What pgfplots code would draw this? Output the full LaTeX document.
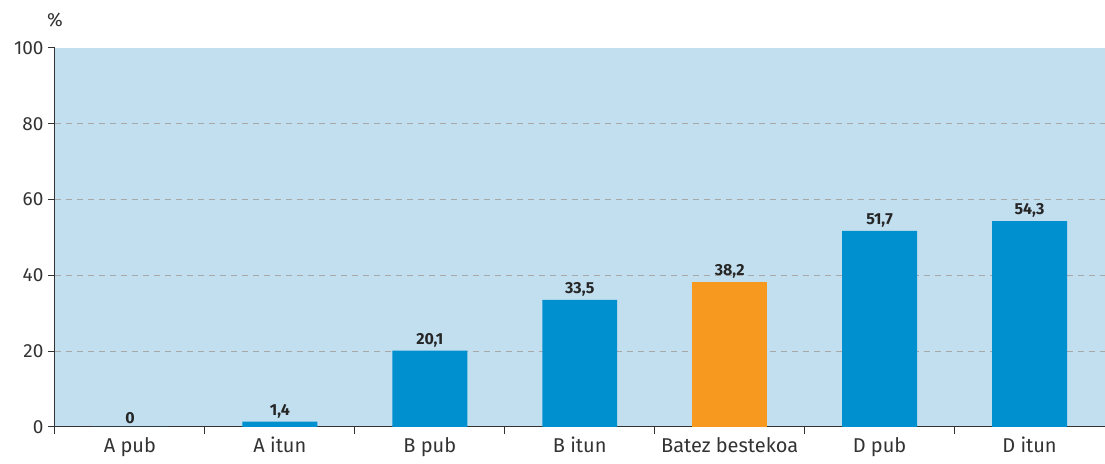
\documentclass[border=0pt]{standalone}
\usepackage{pgfplots}
\pgfplotsset{compat=1.18}
\usepackage{fontspec}
\setmainfont{Fira Sans}
\definecolor{bgblue}{HTML}{C2DFF0}
\definecolor{barblue}{HTML}{0090D0}
\definecolor{barorange}{HTML}{F7991E}
\definecolor{gridgray}{HTML}{A8A8A8}
\definecolor{txt}{HTML}{333333}

\begin{document}
\begin{tikzpicture}
\begin{axis}[
  name=ax,
  width=1050pt, height=379pt, scale only axis,
  xmin=-0.5, xmax=6.5, ymin=0, ymax=100,
  clip=false,
  axis x line*=bottom, axis y line*=left,
  axis line style={txt, line width=1pt},
  axis background/.style={fill=bgblue},
  tick align=outside,
  major tick length=7pt,
  tick style={txt, line width=1pt},
  ytick={0,20,40,60,80},
  extra y ticks={100}, extra y tick style={grid=none},
  ymajorgrids,
  grid style={gridgray, line width=0.9pt, dash pattern=on 6pt off 5pt},
  xtick={-0.5,0.5,...,5.5}, xticklabels={},
  extra x ticks={0,1,2,3,4,5,6},
  extra x tick labels={A pub, A itun, B pub, B itun, Batez bestekoa, D pub, D itun},
  extra x tick style={major tick length=0pt,
    tick label style={yshift=-7pt}},
  tick label style={font=\fontsize{20}{22}\selectfont, text=txt},
  y tick label style={font=\fontsize{19}{21}\selectfont, xshift=-1pt},
  /pgf/number format/assume math mode=true,
  nodes near coords={\pgfmathprintnumber[fixed, precision=1, use comma]{\pgfplotspointmeta}},
  every node near coord/.append style={font=\bfseries\fontsize{16}{18}\selectfont, text=black!85},
]
\addplot[ybar, bar width=0.5, bar shift=0, fill=barblue, draw=none]
  coordinates {(0,0) (1,1.4) (2,20.1) (3,33.5) (5,51.7) (6,54.3)};
\addplot[ybar, bar width=0.5, bar shift=0, fill=barorange, draw=none]
  coordinates {(4,38.2)};
\node[font=\fontsize{19}{20}\selectfont, text=txt] at (rel axis cs:0,1) [yshift=28pt] {\%};
\end{axis}
\path (ax.north west) ++(-55pt,48pt) coordinate (tl);
\path (ax.south east) ++(0,-37pt) coordinate (br);
\useasboundingbox (tl) rectangle (br);
\end{tikzpicture}
\end{document}
